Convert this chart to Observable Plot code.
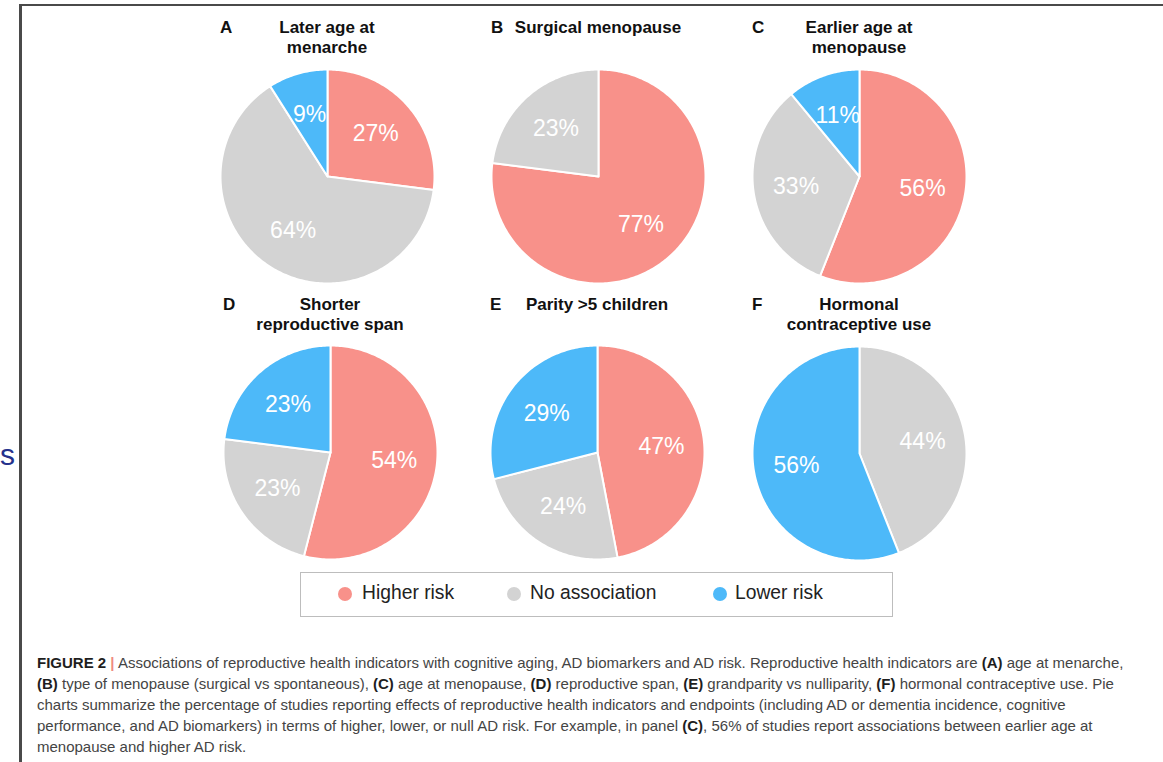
<!DOCTYPE html>
<html>
<head>
<meta charset="utf-8">
<script src="https://cdn.jsdelivr.net/npm/d3@7"></script>
<script src="https://cdn.jsdelivr.net/npm/@observablehq/plot@0.6"></script>
<style>
  html, body { margin: 0; padding: 0; background: #fff; }
  body { width: 1163px; height: 762px; overflow: hidden; position: relative;
         font-family: "Liberation Sans", Arial, Helvetica, sans-serif; }
  #frame { position: absolute; left: 19px; top: 4px; width: 1200px; height: 800px;
           border-left: 3px solid #4a4a4a; border-top: 2px solid #4a4a4a; }
  #edge { position: absolute; left: 0px; top: 440px; font-size: 30px; color: #25318c; line-height: 1; }
  .panel { position: absolute; }
  .title { position: absolute; width: 300px; text-align: center; font-weight: bold;
           font-size: 17px; line-height: 20px; color: #111; }
  .letter { position: absolute; font-weight: bold; font-size: 17px; line-height: 20px; color: #111; }
  #legend { position: absolute; left: 300px; top: 572px; width: 593px; height: 45px;
            box-sizing: border-box; border: 1px solid #bdbdbd; }
  .swatch { position: absolute; width: 14px; height: 14px; border-radius: 50%; }
  .key { position: absolute; font-size: 19.3px; color: #222; line-height: 22px; }
  #caption { position: absolute; left: 37px; top: 652px; font-size: 15px; line-height: 21px; color: #444; }
  #caption div { white-space: nowrap; }
  #caption b { color: #1e1e1e; }
  #caption .bar { color: #ef8a80; font-weight: bold; }
</style>
</head>
<body>
<div id="frame"></div>
<div id="edge">s</div>
<div id="panels"></div>
<div id="legend"></div>
<div id="caption">
  <div><b>FIGURE 2</b> <span class="bar">|</span> Associations of reproductive health indicators with cognitive aging, AD biomarkers and AD risk. Reproductive health indicators are <b>(A)</b> age at menarche,</div>
  <div><b>(B)</b> type of menopause (surgical vs spontaneous), <b>(C)</b> age at menopause, <b>(D)</b> reproductive span, <b>(E)</b> grandparity vs nulliparity, <b>(F)</b> hormonal contraceptive use. Pie</div>
  <div>charts summarize the percentage of studies reporting effects of reproductive health indicators and endpoints (including AD or dementia incidence, cognitive</div>
  <div>performance, and AD biomarkers) in terms of higher, lower, or null AD risk. For example, in panel <b>(C)</b>, 56% of studies report associations between earlier age at</div>
  <div>menopause and higher AD risk.</div>
</div>
<script>
// Panels and their titles
const panelLetters = ["A", "B", "C", "D", "E", "F"];
const panelTitles = [
  ["Later age at", "menarche"],
  ["Surgical menopause"],
  ["Earlier age at", "menopause"],
  ["Shorter", "reproductive span"],
  ["Parity >5 children"],
  ["Hormonal", "contraceptive use"]
];

// Outcome categories (slice order, clockwise from 12 o'clock)
const categories = ["Higher risk", "No association", "Lower risk"];

// Percentage of studies per category, one entry per panel A–F
const higherRisk    = [27, 77, 56, 54, 47, 0];
const noAssociation = [64, 23, 33, 23, 24, 44];
const lowerRisk     = [9, 0, 11, 23, 29, 56];

// Styling and layout
const palette = ["#f8918a", "#d3d3d3", "#4db9f9"];
const centers = [[327, 176], [598, 176], [859, 176], [330, 452], [597, 452], [859, 453]];
const R = 107;            // pie radius in px
const S = 240;            // size of each pie's SVG
const labelRadius = 0.6;  // label distance as a fraction of the radius
const font = '"Liberation Sans", Arial, Helvetica, sans-serif';

const panelsEl = document.getElementById("panels");

panelLetters.forEach((letter, i) => {
  const values = [higherRisk[i], noAssociation[i], lowerRisk[i]];
  const arcs = d3.pie().sort(null).value(d => d)(values);

  // polygon vertices for each wedge and its label anchor
  const verts = [];
  const labels = [];
  arcs.forEach((a, k) => {
    if (a.value === 0) return;
    const key = categories[k];
    verts.push({key, x: 0, y: 0});
    const n = Math.max(2, Math.ceil((a.endAngle - a.startAngle) / (Math.PI / 180)));
    for (let j = 0; j <= n; j++) {
      const t = a.startAngle + (a.endAngle - a.startAngle) * j / n;
      verts.push({key, x: Math.sin(t), y: Math.cos(t)});
    }
    const m = (a.startAngle + a.endAngle) / 2;
    labels.push({key, x: labelRadius * Math.sin(m), y: labelRadius * Math.cos(m), text: `${a.value}%`});
  });

  const half = S / 2 / R;
  const chart = Plot.plot({
    width: S,
    height: S,
    margin: 0,
    x: {domain: [-half, half], axis: null},
    y: {domain: [-half, half], axis: null},
    color: {domain: categories, range: palette},
    style: {background: "transparent", overflow: "visible"},
    marks: [
      Plot.line(verts, {
        x: "x", y: "y", z: "key", fill: "key",
        stroke: "white", strokeWidth: 2, strokeLinejoin: "round", curve: "linear-closed"
      }),
      Plot.text(labels, {
        x: "x", y: "y", text: "text", fill: "white",
        fontSize: 23, fontFamily: font
      })
    ]
  });

  const [cx, cy] = centers[i];
  const wrap = document.createElement("div");
  wrap.className = "panel";
  wrap.style.left = (cx - S / 2) + "px";
  wrap.style.top = (cy - S / 2) + "px";
  wrap.appendChild(chart);
  panelsEl.appendChild(wrap);

  // panel letter and title
  const titleTop = i < 3 ? 18 : 295;
  const L = document.createElement("div");
  L.className = "letter";
  L.textContent = letter;
  L.style.left = (cx - R) + "px";
  L.style.top = titleTop + "px";
  panelsEl.appendChild(L);

  const T = document.createElement("div");
  T.className = "title";
  T.innerHTML = panelTitles[i].join("<br>");
  T.style.left = (cx - 150) + "px";
  T.style.top = titleTop + "px";
  panelsEl.appendChild(T);
});

// legend
const legend = document.getElementById("legend");
const swatchX = [44, 213, 419];
const keyX = [61, 229, 434];
categories.forEach((c, k) => {
  const s = document.createElement("div");
  s.className = "swatch";
  s.style.background = palette[k];
  s.style.left = (swatchX[k] - 7) + "px";
  s.style.top = (21 - 7) + "px";
  legend.appendChild(s);
  const t = document.createElement("div");
  t.className = "key";
  t.textContent = c;
  t.style.left = keyX[k] + "px";
  t.style.top = "9px";
  legend.appendChild(t);
});
</script>
</body>
</html>
